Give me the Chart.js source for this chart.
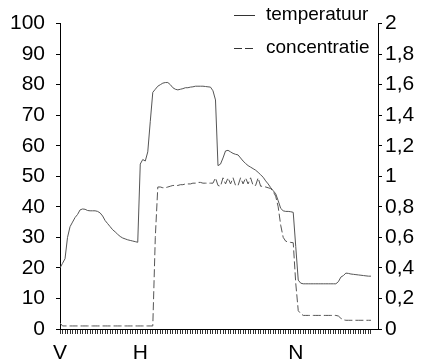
<!DOCTYPE html>
<html>
<head>
<meta charset="utf-8">
<script src="https://cdn.jsdelivr.net/npm/chart.js@4/dist/chart.umd.min.js"></script>
<style>
  body { margin: 0; background: #fff; }
  #wrap { width: 428px; height: 364px; }
</style>
</head>
<body>
<div id="wrap"><canvas id="chart"></canvas></div>
<script>
var xTickLabels = ['V', 'H', 'N'];
var xTickIndex = [0, 32, 94];

var temperatuur = [
  20, 21.5, 23, 30, 33.5, 35, 36.5, 37.5, 39, 39.3,
  39.2, 38.8, 38.7, 38.7, 38.7, 38.5, 38, 37, 35.5, 34.5,
  33.5, 32.5, 31.8, 31, 30.3, 29.8, 29.5, 29.2, 29, 28.8,
  28.6, 28.4, 54, 55.5, 55, 58, 68, 77.5, 78.5, 79.5,
  80, 80.5, 80.7, 80.7, 80, 79, 78.5, 78.3, 78.5, 78.7,
  79, 79, 79.2, 79.3, 79.5, 79.5, 79.5, 79.5, 79.4, 79.3,
  79.2, 78, 75, 53.5, 54, 56, 58.3, 58.5, 58, 57.5,
  57.2, 57, 56, 55, 54.2, 53.5, 53, 52.5, 52, 51.3,
  50.5, 49.7, 48.5, 47.5, 46.3, 45.3, 44.3, 42, 39.5, 38.7,
  38.5, 38.5, 38.4, 38.2, 27, 16, 15, 14.8, 14.8, 14.8,
  14.8, 14.8, 14.8, 14.8, 14.8, 14.8, 14.8, 14.8, 14.8, 14.8,
  14.8, 15.5, 17, 17.5, 18.3, 18.2, 18, 17.9, 17.8, 17.7,
  17.6, 17.5, 17.4, 17.3, 17.3
];

var concentratie = [
  0.04, 0.02, 0.02, 0.02, 0.02, 0.02, 0.02, 0.02, 0.02, 0.02,
  0.02, 0.02, 0.02, 0.02, 0.02, 0.02, 0.02, 0.02, 0.02, 0.02,
  0.02, 0.02, 0.02, 0.02, 0.02, 0.02, 0.02, 0.02, 0.02, 0.02,
  0.02, 0.02, 0.02, 0.02, 0.02, 0.02, 0.02, 0.02, 0.6, 0.93,
  0.93, 0.925, 0.925, 0.93, 0.935, 0.94, 0.94, 0.94, 0.945, 0.945,
  0.95, 0.95, 0.95, 0.955, 0.955, 0.96, 0.96, 0.955, 0.955, 0.955,
  0.955, 0.955, 0.99, 0.94, 0.935, 0.99, 0.95, 0.99, 0.95, 0.99,
  0.94, 0.94, 0.99, 0.95, 0.99, 0.95, 0.99, 0.94, 0.94, 0.99,
  0.935, 0.935, 0.93, 0.925, 0.92, 0.9, 0.87, 0.8, 0.68, 0.6,
  0.575, 0.57, 0.567, 0.565, 0.3, 0.12, 0.1, 0.089, 0.089, 0.089,
  0.089, 0.089, 0.089, 0.089, 0.089, 0.089, 0.089, 0.089, 0.089, 0.089,
  0.089, 0.085, 0.07, 0.06, 0.057, 0.057, 0.057, 0.057, 0.057, 0.057,
  0.057, 0.057, 0.057, 0.057, 0.057
];

var fontFamily = '"Liberation Sans", Arial, Helvetica, sans-serif';

function toPoints(values) {
  return values.map(function(v, i) { return { x: i, y: v }; });
}

// legend drawn inside the plot area, top right
var legendPlugin = {
  id: 'cornerLegend',
  afterDraw: function(chart) {
    var ctx = chart.ctx;
    var items = [
      { text: 'temperatuur', y: 15, dash: [] },
      { text: 'concentratie', y: 48, dash: [8, 3] }
    ];
    ctx.save();
    ctx.font = '19px ' + fontFamily;
    ctx.textBaseline = 'middle';
    ctx.fillStyle = '#000';
    items.forEach(function(it) {
      ctx.strokeStyle = '#333';
      ctx.lineWidth = 1;
      ctx.setLineDash(it.dash);
      ctx.beginPath();
      ctx.moveTo(234, it.y + 0.5);
      ctx.lineTo(255, it.y + 0.5);
      ctx.stroke();
      ctx.fillText(it.text, 266, it.y);
    });
    ctx.restore();
  }
};

var ctx = document.getElementById('chart');
var chart = new Chart(ctx, {
  type: 'line',
  data: {
    datasets: [
      {
        label: 'temperatuur',
        data: toPoints(temperatuur),
        yAxisID: 'y',
        borderColor: '#555',
        borderWidth: 1,
        pointRadius: 0,
        tension: 0
      },
      {
        label: 'concentratie',
        data: toPoints(concentratie),
        yAxisID: 'y1',
        borderColor: '#555',
        borderWidth: 1,
        borderDash: [8, 3],
        pointRadius: 0,
        tension: 0
      }
    ]
  },
  options: {
    responsive: true,
    maintainAspectRatio: false,
    animation: false,
    layout: { padding: { top: 15 } },
    plugins: {
      legend: { display: false },
      tooltip: { enabled: false }
    },
    scales: {
      x: {
        type: 'linear',
        min: 0,
        max: 126.8,
        afterBuildTicks: function(scale) {
          scale.ticks = temperatuur.map(function(v, i) { return { value: i }; });
        },
        afterFit: function(scale) { scale.height = 35; },
        border: { color: '#000', width: 1 },
        grid: { drawOnChartArea: false, drawTicks: true, tickLength: 5, color: '#333' },
        ticks: {
          autoSkip: false,
          maxRotation: 0,
          minRotation: 0,
          padding: 7,
          color: '#000',
          font: { family: fontFamily, size: 21 },
          callback: function(value) {
            var k = xTickIndex.indexOf(value);
            return k >= 0 ? xTickLabels[k] : '';
          }
        }
      },
      y: {
        position: 'left',
        min: 0,
        max: 100,
        afterFit: function(scale) { scale.width = 60; },
        border: { color: '#000', width: 1 },
        grid: { drawOnChartArea: false, drawTicks: true, tickLength: 4, color: '#000' },
        ticks: {
          stepSize: 10,
          padding: 11,
          color: '#000',
          font: { family: fontFamily, size: 21 }
        }
      },
      y1: {
        position: 'right',
        min: 0,
        max: 2,
        afterFit: function(scale) { scale.width = 50; },
        border: { color: '#000', width: 1 },
        grid: { drawOnChartArea: false, drawTicks: true, tickLength: 4, color: '#000' },
        ticks: {
          stepSize: 0.2,
          padding: 3,
          color: '#000',
          font: { family: fontFamily, size: 21 },
          callback: function(value) {
            return String(Math.round(value * 10) / 10).replace('.', ',');
          }
        }
      }
    }
  },
  plugins: [legendPlugin]
});
</script>
</body>
</html>
